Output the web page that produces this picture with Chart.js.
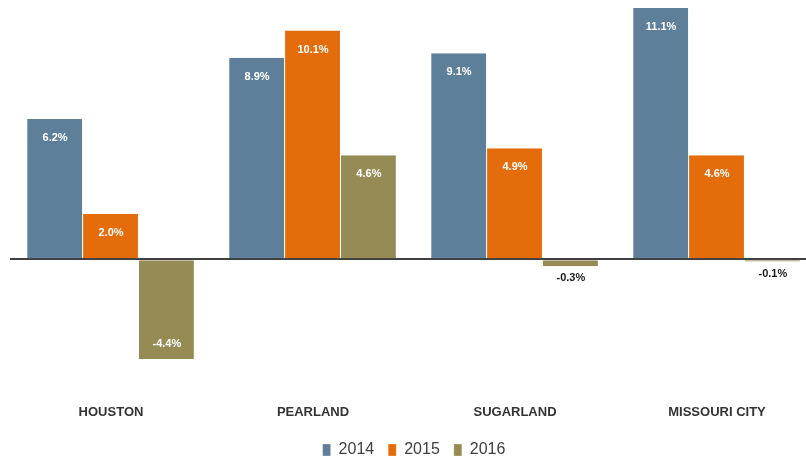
<!DOCTYPE html>
<html><head><meta charset="utf-8">
<script src="https://cdn.jsdelivr.net/npm/chart.js@4.4.1/dist/chart.umd.min.js"></script>
<style>html,body{margin:0;padding:0;background:#fff;overflow:hidden}#wrap{width:806px;height:461px;overflow:hidden}</style>
</head><body><div id="wrap"><canvas id="c" width="822" height="461"></canvas></div>
<script>
const categories = ["HOUSTON", "PEARLAND", "SUGARLAND", "MISSOURI CITY"];
const seriesNames = ["2014", "2015", "2016"];
const values2014 = [6.2, 8.9, 9.1, 11.1];
const values2015 = [2.0, 10.1, 4.9, 4.6];
const values2016 = [-4.4, 4.6, -0.3, -0.1];
const colors = ["#5d7f99", "#e46c0a", "#958b54"];

const labelPlugin = {
  id: 'vlabels',
  afterDatasetsDraw(chart) {
    const ctx = chart.ctx;
    ctx.save();
    ctx.font = 'bold 11px Arial, "Liberation Sans", sans-serif';
    ctx.textAlign = 'center';
    ctx.textBaseline = 'middle';
    chart.data.datasets.forEach((ds, di) => {
      const meta = chart.getDatasetMeta(di);
      meta.data.forEach((bar, i) => {
        const v = ds.data[i];
        const txt = v.toFixed(1) + '%';
        const h = Math.abs(bar.base - bar.y);
        let y, col;
        if (v >= 0) { y = bar.y + 19; col = '#ffffff'; }
        else if (h > 30) { y = bar.y - 15; col = '#ffffff'; }
        else { y = bar.y + 12; col = '#1a1a1a'; }
        ctx.fillStyle = col;
        ctx.fillText(txt, bar.x, y);
      });
    });
    ctx.restore();
  }
};

const legendFitPlugin = {
  id: 'legendFit',
  beforeLayout(chart) {
    const lg = chart.legend;
    if (lg && !lg._patched) {
      const orig = lg.fit;
      lg.fit = function () { orig.call(this); this.height = 33; };
      lg._patched = true;
    }
  }
};

new Chart(document.getElementById('c'), {
  type: 'bar',
  data: {
    labels: categories,
    datasets: [
      { label: seriesNames[0], data: values2014, backgroundColor: colors[0] },
      { label: seriesNames[1], data: values2015, backgroundColor: colors[1] },
      { label: seriesNames[2], data: values2016, backgroundColor: colors[2] }
    ]
  },
  options: {
    responsive: false,
    animation: false,
    layout: { padding: { left: 10, right: 4, top: 0, bottom: 0 } },
    datasets: { bar: { categoryPercentage: 0.83, barPercentage: 1.0, borderWidth: {right: 1}, borderColor: '#ffffff', borderSkipped: false } },
    plugins: {
      legend: {
        position: 'bottom',
        labels: { boxWidth: 8, boxHeight: 12, padding: 14, color: '#404040',
          font: { family: 'Arial, "Liberation Sans", sans-serif', size: 16 } }
      },
      tooltip: { enabled: false }
    },
    scales: {
      x: {
        grid: { display: false, drawTicks: false },
        border: { display: false },
        ticks: { padding: 8, color: '#333333', font: { family: 'Arial, "Liberation Sans", sans-serif', size: 13, weight: 'bold' } }
      },
      y: {
        display: true,
        min: -6.05, max: 11.45,
        ticks: { display: false },
        border: { display: false },
        grid: {
          drawTicks: false,
          color: (c) => c.tick && c.tick.value === 0 ? '#404040' : 'rgba(0,0,0,0)',
          lineWidth: (c) => c.tick && c.tick.value === 0 ? 2 : 0
        },
        afterBuildTicks: (axis) => { axis.ticks = [{ value: 0 }]; }
      }
    }
  },
  plugins: [labelPlugin, legendFitPlugin]
});
</script></body></html>
